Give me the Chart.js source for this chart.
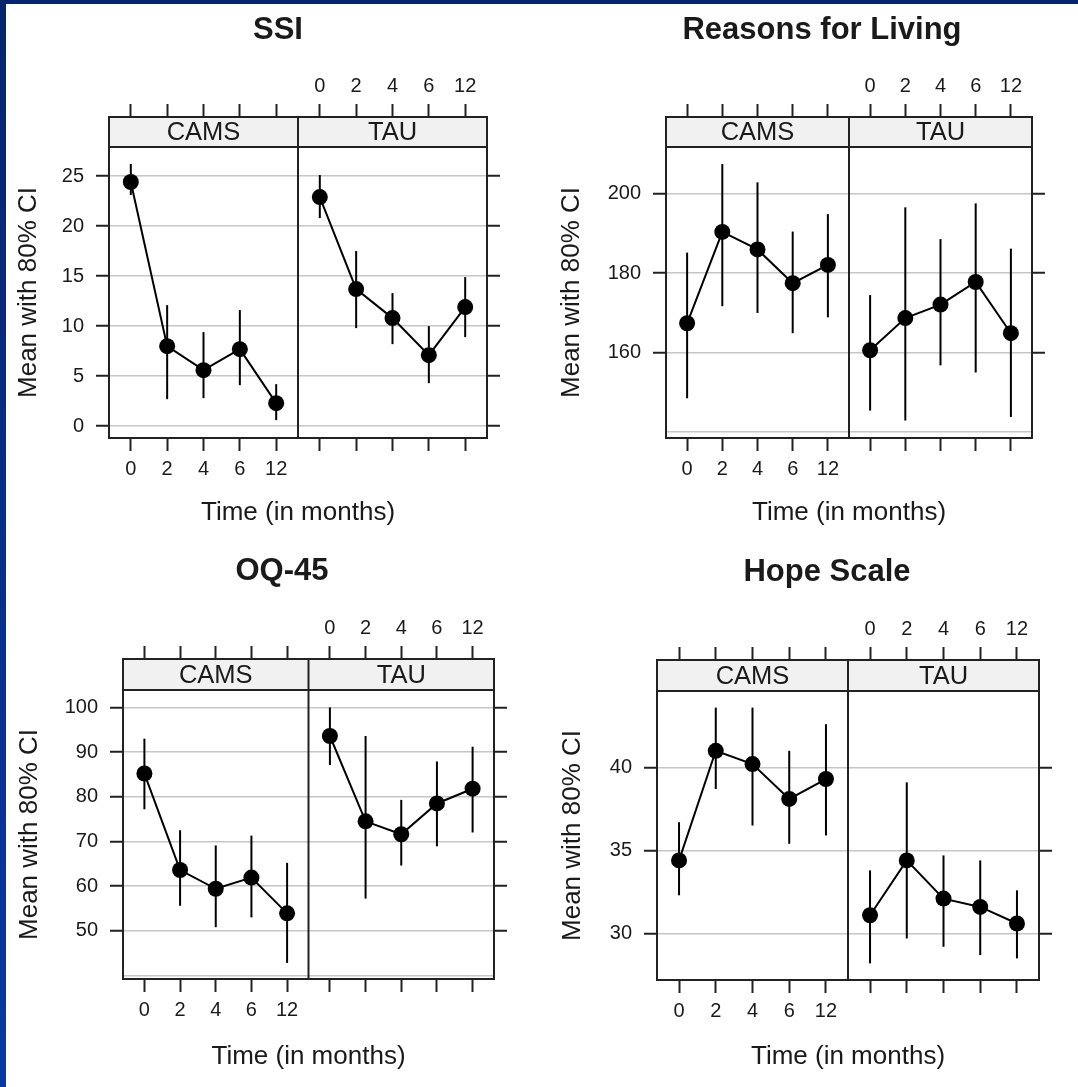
<!DOCTYPE html>
<html>
<head>
<meta charset="utf-8">
<script src="https://cdn.jsdelivr.net/npm/chart.js@4.4.1/dist/chart.umd.min.js"></script>
<style>
  html, body { margin: 0; padding: 0; background: #fff; }
  #page { position: relative; width: 1078px; height: 1087px; overflow: hidden; background: #fff; }
  .edge-top { position: absolute; left: 0; top: 0; width: 1078px; height: 4px; background: #06256b; }
  .edge-left { position: absolute; left: 0; top: 0; width: 6px; height: 1087px; background: linear-gradient(#06256b, #0a37a3); }
  canvas { position: absolute; }
</style>
</head>
<body>
<div id="page">
  <div class="edge-top"></div>
  <div class="edge-left"></div>
  <canvas id="ssi" width="539" height="540" style="left:0;top:0"></canvas>
  <canvas id="rfl" width="539" height="540" style="left:539px;top:0"></canvas>
  <canvas id="oq" width="539" height="547" style="left:0;top:540px"></canvas>
  <canvas id="hope" width="539" height="547" style="left:539px;top:540px"></canvas>
</div>
<script>
// categories
const timeLabels = ['0', '2', '4', '6', '12'];
const groupNames = ['CAMS', 'TAU'];

// SSI
const ssiCamsMean = [24.4, 8.0, 5.6, 7.7, 2.3];
const ssiCamsLow  = [23.1, 2.7, 2.8, 4.1, 0.6];
const ssiCamsHigh = [26.2, 12.1, 9.4, 11.6, 4.2];
const ssiTauMean  = [22.9, 13.7, 10.8, 7.1, 11.9];
const ssiTauLow   = [20.8, 9.8, 8.2, 4.3, 8.9];
const ssiTauHigh  = [25.1, 17.5, 13.3, 10.0, 14.9];
const ssiTicks = [0, 5, 10, 15, 20, 25];
const ssiTickLabels = ['0', '5', '10', '15', '20', '25'];
const ssiRange = [-1.18, 27.9];

// Reasons for Living
const rflCamsMean = [167.4, 190.4, 186.0, 177.5, 182.1];
const rflCamsLow  = [148.5, 171.7, 170.0, 164.9, 168.9];
const rflCamsHigh = [185.2, 207.5, 202.9, 190.5, 194.9];
const rflTauMean  = [160.6, 168.7, 172.1, 177.8, 164.9];
const rflTauLow   = [145.4, 142.9, 156.8, 155.0, 143.8];
const rflTauHigh  = [174.5, 196.6, 188.6, 197.6, 186.2];
const rflTicks = [140, 160, 180, 200];
const rflTickLabels = ['', '160', '180', '200'];
const rflRange = [138.5, 211.8];

// OQ-45
const oqCamsMean = [85.2, 63.6, 59.4, 61.9, 53.9];
const oqCamsLow  = [77.2, 55.6, 50.8, 53.0, 42.8];
const oqCamsHigh = [93.0, 72.5, 69.1, 71.3, 65.2];
const oqTauMean  = [93.6, 74.5, 71.6, 78.5, 81.8];
const oqTauLow   = [87.1, 57.2, 64.6, 68.9, 72.0];
const oqTauHigh  = [100.0, 93.6, 79.3, 87.9, 91.2];
const oqTicks = [40, 50, 60, 70, 80, 90, 100];
const oqTickLabels = ['', '50', '60', '70', '80', '90', '100'];
const oqRange = [39.2, 103.9];

// Hope Scale
const hopeCamsMean = [34.4, 41.0, 40.2, 38.1, 39.3];
const hopeCamsLow  = [32.3, 38.7, 36.5, 35.4, 35.9];
const hopeCamsHigh = [36.7, 43.6, 43.6, 41.0, 42.6];
const hopeTauMean  = [31.1, 34.4, 32.1, 31.6, 30.6];
const hopeTauLow   = [28.2, 29.7, 29.2, 28.7, 28.5];
const hopeTauHigh  = [33.8, 39.1, 34.7, 34.4, 32.6];
const hopeTicks = [30, 35, 40];
const hopeTickLabels = ['30', '35', '40'];
const hopeRange = [27.2, 44.6];

// panel geometry (in x units): categories at 0..4, each panel padded by 0.6
const catPad = 0.6;
const panelWidth = timeLabels.length - 1 + 2 * catPad;
const xValue = (g, i) => g * panelWidth + i;
const xTickValues = groupNames.flatMap((_, g) => timeLabels.map((_, i) => xValue(g, i)));
const xMin = -catPad;
const xMax = groupNames.length * panelWidth - catPad;
const dividerAt = panelWidth - catPad;

const FONT = '"Liberation Sans", Arial, Helvetica, sans-serif';
const INK = '#1a1a1a';
const LINE = '#222';
Chart.defaults.font.family = FONT;
Chart.defaults.color = INK;

const panelPlugin = {
  id: 'panels',
  afterDraw(chart, args, opts) {
    const { ctx, chartArea: ca } = chart;
    const mid = chart.scales.x.getPixelForValue(dividerAt);
    const top = ca.top - opts.strip;
    ctx.save();
    ctx.fillStyle = '#f1f1f1';
    ctx.fillRect(ca.left, top, ca.right - ca.left, opts.strip);
    ctx.strokeStyle = LINE;
    ctx.lineWidth = 2;
    ctx.strokeRect(ca.left, top, ca.right - ca.left, opts.strip);
    ctx.beginPath();
    ctx.moveTo(mid, top);
    ctx.lineTo(mid, ca.bottom);
    ctx.stroke();

    ctx.fillStyle = INK;
    ctx.textAlign = 'center';
    ctx.textBaseline = 'middle';
    ctx.font = '25.5px ' + FONT;
    ctx.fillText(groupNames[0], (ca.left + mid) / 2, top + opts.strip / 2 + 1);
    ctx.fillText(groupNames[1], (mid + ca.right) / 2, top + opts.strip / 2 + 1);

    ctx.font = 'bold 31px ' + FONT;
    ctx.fillText(opts.title, opts.titleX, opts.titleY);
    ctx.restore();
  }
};

function makeChart(id, title, series, yTicks, yTickLabels, yRange, lay) {
  const canvas = document.getElementById(id);
  const W = canvas.width, H = canvas.height;
  const n = timeLabels.length;
  const tickColor = c => yTickLabels[c.index] ? LINE : 'rgba(0,0,0,0)';

  const datasets = [];
  series.forEach((s, g) => {
    datasets.push({
      type: 'line',
      data: s.mean.map((v, i) => ({ x: xValue(g, i), y: v })),
      borderColor: '#000',
      borderWidth: 2,
      pointRadius: 8,
      pointBackgroundColor: '#000',
      pointBorderWidth: 0,
      tension: 0,
      fill: false,
      order: 0
    });
    datasets.push({
      type: 'bar',
      data: s.low.map((lo, i) => ({ x: xValue(g, i), y: [lo, s.high[i]] })),
      backgroundColor: '#000',
      borderWidth: 0,
      inflateAmount: 0,
      barThickness: 2,
      maxBarThickness: 2,
      grouped: false,
      order: 1
    });
  });

  const xAxis = (position, labelGroup) => ({
    type: 'linear',
    position,
    min: xMin,
    max: xMax,
    offset: false,
    afterBuildTicks: s => { s.ticks = xTickValues.map(v => ({ value: v })); },
    afterFit: s => { s.height = position === 'bottom' ? H - lay.area.b : lay.area.t; },
    grid: {
      drawOnChartArea: false,
      offset: false,
      tickLength: position === 'bottom' ? 13 : 13 + lay.strip,
      tickWidth: 2,
      tickColor: LINE
    },
    border: { display: true, color: LINE, width: 2 },
    ticks: {
      autoSkip: false,
      maxRotation: 0,
      padding: 6,
      font: { size: 20 },
      color: INK,
      callback: (v, i) => Math.floor(i / n) === labelGroup ? timeLabels[i % n] : ''
    },
    title: {
      display: position === 'bottom',
      text: 'Time (in months)',
      font: { size: 26 },
      color: INK,
      padding: { top: 0, bottom: lay.xTitlePad }
    }
  });

  const yAxis = (position) => ({
    type: 'linear',
    position,
    min: yRange[0],
    max: yRange[1],
    beginAtZero: false,
    afterBuildTicks: s => { s.ticks = yTicks.map(v => ({ value: v })); },
    afterFit: s => { s.width = position === 'left' ? lay.area.l : W - lay.area.r; },
    grid: {
      drawOnChartArea: position === 'left',
      color: '#c6c6c6',
      lineWidth: 1.5,
      tickLength: 13,
      tickWidth: 2,
      tickColor
    },
    border: { display: true, color: LINE, width: 2 },
    ticks: {
      display: position === 'left',
      padding: 12,
      font: { size: 20 },
      color: INK,
      callback: (v, i) => yTickLabels[i]
    },
    title: {
      display: position === 'left',
      text: 'Mean with 80% CI',
      font: { size: 26 },
      color: INK,
      padding: { top: lay.yTitlePad, bottom: 0 }
    }
  });

  return new Chart(canvas, {
    type: 'line',
    data: { datasets },
    options: {
      responsive: false,
      animation: false,
      events: [],
      layout: { padding: 0, autoPadding: false },
      plugins: {
        legend: { display: false },
        tooltip: { enabled: false },
        title: { display: false },
        panels: { title, strip: lay.strip, titleX: lay.titleX, titleY: lay.titleY }
      },
      scales: {
        x: xAxis('bottom', 0),
        x2: xAxis('top', 1),
        y: yAxis('left'),
        y2: yAxis('right')
      }
    },
    plugins: [panelPlugin]
  });
}

makeChart('ssi', 'SSI',
  [{ mean: ssiCamsMean, low: ssiCamsLow, high: ssiCamsHigh },
   { mean: ssiTauMean, low: ssiTauLow, high: ssiTauHigh }],
  ssiTicks, ssiTickLabels, ssiRange,
  { area: { l: 109, t: 147, r: 487, b: 438 }, strip: 30, titleX: 278, titleY: 30, yTitlePad: 13, xTitlePad: 12 });

makeChart('rfl', 'Reasons for Living',
  [{ mean: rflCamsMean, low: rflCamsLow, high: rflCamsHigh },
   { mean: rflTauMean, low: rflTauLow, high: rflTauHigh }],
  rflTicks, rflTickLabels, rflRange,
  { area: { l: 127, t: 147, r: 493, b: 438 }, strip: 30, titleX: 283, titleY: 30, yTitlePad: 17, xTitlePad: 12 });

makeChart('oq', 'OQ-45',
  [{ mean: oqCamsMean, low: oqCamsLow, high: oqCamsHigh },
   { mean: oqTauMean, low: oqTauLow, high: oqTauHigh }],
  oqTicks, oqTickLabels, oqRange,
  { area: { l: 123, t: 150, r: 494, b: 439 }, strip: 31, titleX: 282, titleY: 31, yTitlePad: 14, xTitlePad: 15 });

makeChart('hope', 'Hope Scale',
  [{ mean: hopeCamsMean, low: hopeCamsLow, high: hopeCamsHigh },
   { mean: hopeTauMean, low: hopeTauLow, high: hopeTauHigh }],
  hopeTicks, hopeTickLabels, hopeRange,
  { area: { l: 118, t: 151, r: 500, b: 440 }, strip: 31, titleX: 288, titleY: 32, yTitlePad: 18, xTitlePad: 15 });
</script>
</body>
</html>
